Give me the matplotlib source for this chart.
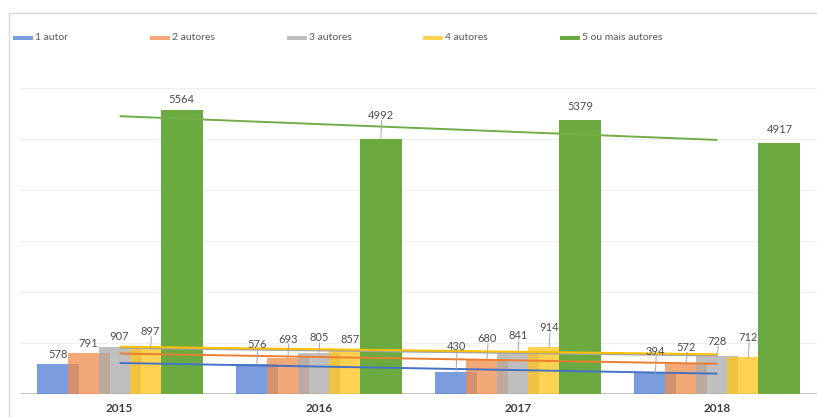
import numpy as np
import matplotlib
matplotlib.use("Agg")
import matplotlib.pyplot as plt
from matplotlib.patches import Rectangle
from matplotlib.lines import Line2D

plt.rcParams['font.family'] = ['Lato', 'DejaVu Sans']

# data
years = ["2015", "2016", "2017", "2018"]
series_names = ["1 autor", "2 autores", "3 autores", "4 autores", "5 ou mais autores"]
autor1 = [578, 576, 430, 394]
autores2 = [791, 693, 680, 572]
autores3 = [907, 805, 841, 728]
autores4 = [897, 857, 914, 712]
autores5 = [5564, 4992, 5379, 4917]
all_series = [autor1, autores2, autores3, autores4, autores5]

# how far each data label sits above its bar (pixels), per series / year
label_lift = [[10, 20, 25, 22],
              [10, 19, 20, 17],
              [11, 15, 15, 15],
              [16, 10, 19, 20],
              [11, 24, 13, 14]]

bar_colors = ["#4f7fd6", "#f08e4c", "#ababab", "#ffc41c", "#6aaa40"]
bar_alpha = [0.76, 0.76, 0.76, 0.76, 1.0]
trend_colors = ["#4472c4", "#ed7d31", "#a5a5a5", "#ffc000", "#70ad47"]
label_color = "#4d4d4d"

W, H = 817, 417
fig = plt.figure(figsize=(W / 100, H / 100), dpi=100)
ax = fig.add_axes([20 / W, 23.5 / H, 797 / W, 305.5 / H])

x = np.arange(len(years))
step = 0.1556
width = 0.211

for i, vals in enumerate(all_series):
    pos = x + (i - 2) * step
    ax.bar(pos, vals, width=width, color=bar_colors[i], alpha=bar_alpha[i],
           zorder=2, linewidth=0)
    for j, v in enumerate(vals):
        lift = label_lift[i][j]
        ax.annotate(str(v), (pos[j], v), xytext=(0, lift),
                    textcoords='offset pixels', ha='center', va='center',
                    fontsize=8, color=label_color, zorder=5)
        # leader line for labels that were dragged up
        if lift >= 15:
            ax.annotate("", (pos[j], v), xytext=(0.8, lift - 5),
                        textcoords='offset pixels',
                        arrowprops=dict(arrowstyle='-', color='#a6a6a6', lw=0.7,
                                        shrinkA=0, shrinkB=0), zorder=4)

# linear trend lines, category 1 to category 4
for i, vals in enumerate(all_series):
    k, b = np.polyfit(x, vals, 1)
    ax.plot(x, k * x + b, color=trend_colors[i], lw=1.4, zorder=3,
            solid_capstyle='butt')

ax.set_xlim(-0.5, 3.5)
ax.set_ylim(0, 6000)
for g in range(1000, 7000, 1000):
    ax.axhline(g, color="#efefef", lw=0.8, zorder=0)
ax.axhline(0, color="#bfbfbf", lw=1.3, zorder=1)
for s in ax.spines.values():
    s.set_visible(False)
ax.set_yticks([])
ax.set_xticks(x)
ax.set_xticklabels(years, fontweight='bold', fontsize=8.5, color="#404040")
ax.tick_params(axis='x', length=0, pad=7)

# legend drawn by hand across the top
leg_x = [13, 150, 287, 423, 560]
for i, name in enumerate(series_names):
    fig.add_artist(Rectangle((leg_x[i] / W, (H - 40) / H), 20 / W, 4 / H,
                             transform=fig.transFigure, color=bar_colors[i],
                             alpha=bar_alpha[i], lw=0))
    fig.text((leg_x[i] + 22) / W, (H - 38) / H, name, fontsize=7.5,
             color="#595959", va='center', ha='left')

# chart frame edges
fig.add_artist(Line2D([9 / W, 1], [(H - 13) / H, (H - 13) / H],
                      transform=fig.transFigure, color="#d9d9d9", lw=1))
fig.add_artist(Line2D([9 / W, 9 / W], [0, (H - 13) / H],
                      transform=fig.transFigure, color="#d9d9d9", lw=1))

fig.savefig("out.png", dpi=100)
